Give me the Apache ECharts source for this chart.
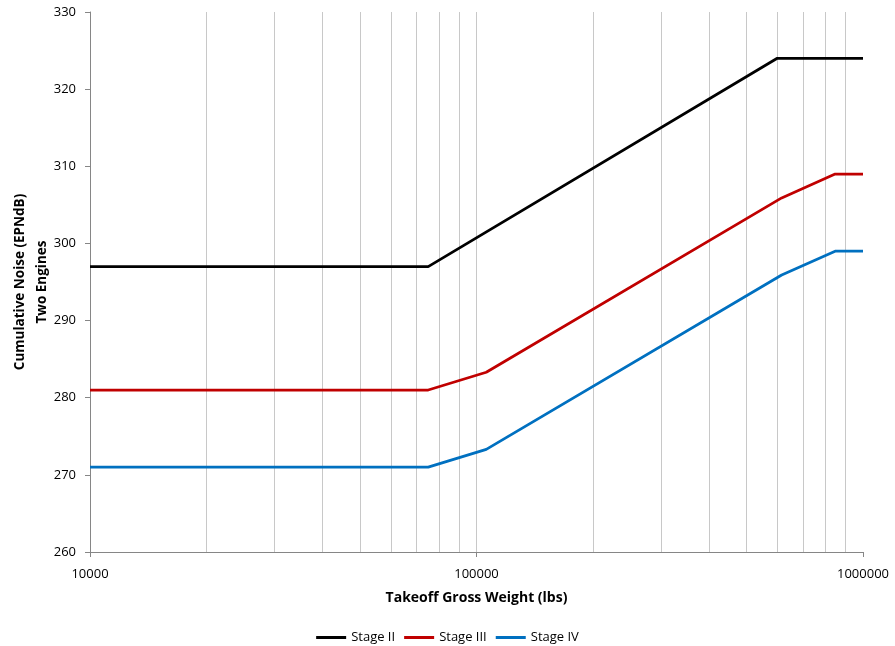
<!DOCTYPE html>
<html>
<head>
<meta charset="utf-8">
<script src="https://cdn.jsdelivr.net/npm/echarts@6/dist/echarts.min.js"></script>
<style>html,body{margin:0;padding:0;background:#fff}#c{width:895px;height:646px}</style>
</head>
<body>
<div id="c"></div>
<script>
// ---- data ----
const stageIIWeights  = [10000, 75000, 600000, 1000000];
const stageIIValues   = [297, 297, 324, 324];
const stageIIIWeights = [10000, 75000, 106000, 616000, 847000, 1000000];
const stageIIIValues  = [281, 281, 283.3, 305.9, 309, 309];
const stageIVWeights  = [10000, 75000, 106000, 616000, 847000, 1000000];
const stageIVValues   = [271, 271, 273.3, 295.9, 299, 299];
const seriesNames = ['Stage II', 'Stage III', 'Stage IV'];
const gridWeights = [20000, 30000, 40000, 50000, 60000, 70000, 80000, 90000, 100000,
                     200000, 300000, 400000, 500000, 600000, 700000, 800000, 900000];

const pairs = (xs, ys) => xs.map((x, i) => [x, ys[i]]);
const FONT = "'Open Sans', sans-serif";

const chart = echarts.init(document.getElementById('c'));
chart.setOption({
  animation: false,
  textStyle: { fontFamily: FONT },
  grid: { left: 90, right: 32, top: 12, bottom: 94, containLabel: false, outerBoundsMode: 'none' },
  legend: {
    top: 626, left: 'center',
    itemWidth: 30, itemHeight: 3, itemGap: 9, icon: 'rect',
    textStyle: { fontFamily: FONT, fontSize: 13, color: '#000' },
    data: seriesNames
  },
  xAxis: {
    type: 'log', logBase: 10, min: 10000, max: 1000000,
    name: 'Takeoff Gross Weight (lbs)', nameLocation: 'middle', nameGap: 39, nameMoveOverlap: false,
    nameTextStyle: { fontFamily: FONT, fontWeight: 'bold', fontSize: 14, color: '#000' },
    axisLine: { lineStyle: { color: '#868686', width: 1 } },
    axisTick: { show: true, length: 5, lineStyle: { color: '#868686' } },
    axisLabel: { fontFamily: FONT, fontSize: 13, color: '#000', margin: 16,
                 formatter: v => String(Math.round(v)) },
    splitLine: { show: false },
    minorTick: { show: false }, minorSplitLine: { show: false }
  },
  yAxis: {
    type: 'value', min: 260, max: 330, interval: 10,
    name: 'Cumulative Noise (EPNdB)\nTwo Engines', nameLocation: 'middle', nameGap: 37, nameMoveOverlap: false,
    nameTextStyle: { fontFamily: FONT, fontWeight: 'bold', fontSize: 13.5, color: '#000', lineHeight: 22 },
    axisLine: { show: true, lineStyle: { color: '#868686', width: 1 } },
    axisTick: { show: true, length: 5, lineStyle: { color: '#868686' } },
    axisLabel: { fontFamily: FONT, fontSize: 13, color: '#000', margin: 14 },
    splitLine: { show: false }
  },
  series: [
    {
      name: seriesNames[0], type: 'line', data: pairs(stageIIWeights, stageIIValues),
      symbol: 'none', lineStyle: { color: '#000000', width: 2.75 }, itemStyle: { color: '#000000' },
      z: 3,
      markLine: {
        silent: true, symbol: 'none', label: { show: false },
        lineStyle: { color: '#c8c8c8', width: 1, type: 'solid' },
        data: gridWeights.map(w => ({ xAxis: w })),
        z: 1
      }
    },
    {
      name: seriesNames[1], type: 'line', data: pairs(stageIIIWeights, stageIIIValues),
      symbol: 'none', lineStyle: { color: '#C00000', width: 2.75 }, itemStyle: { color: '#C00000' }, z: 3
    },
    {
      name: seriesNames[2], type: 'line', data: pairs(stageIVWeights, stageIVValues),
      symbol: 'none', lineStyle: { color: '#0070C0', width: 2.75 }, itemStyle: { color: '#0070C0' }, z: 3
    }
  ]
});
</script>
</body>
</html>
